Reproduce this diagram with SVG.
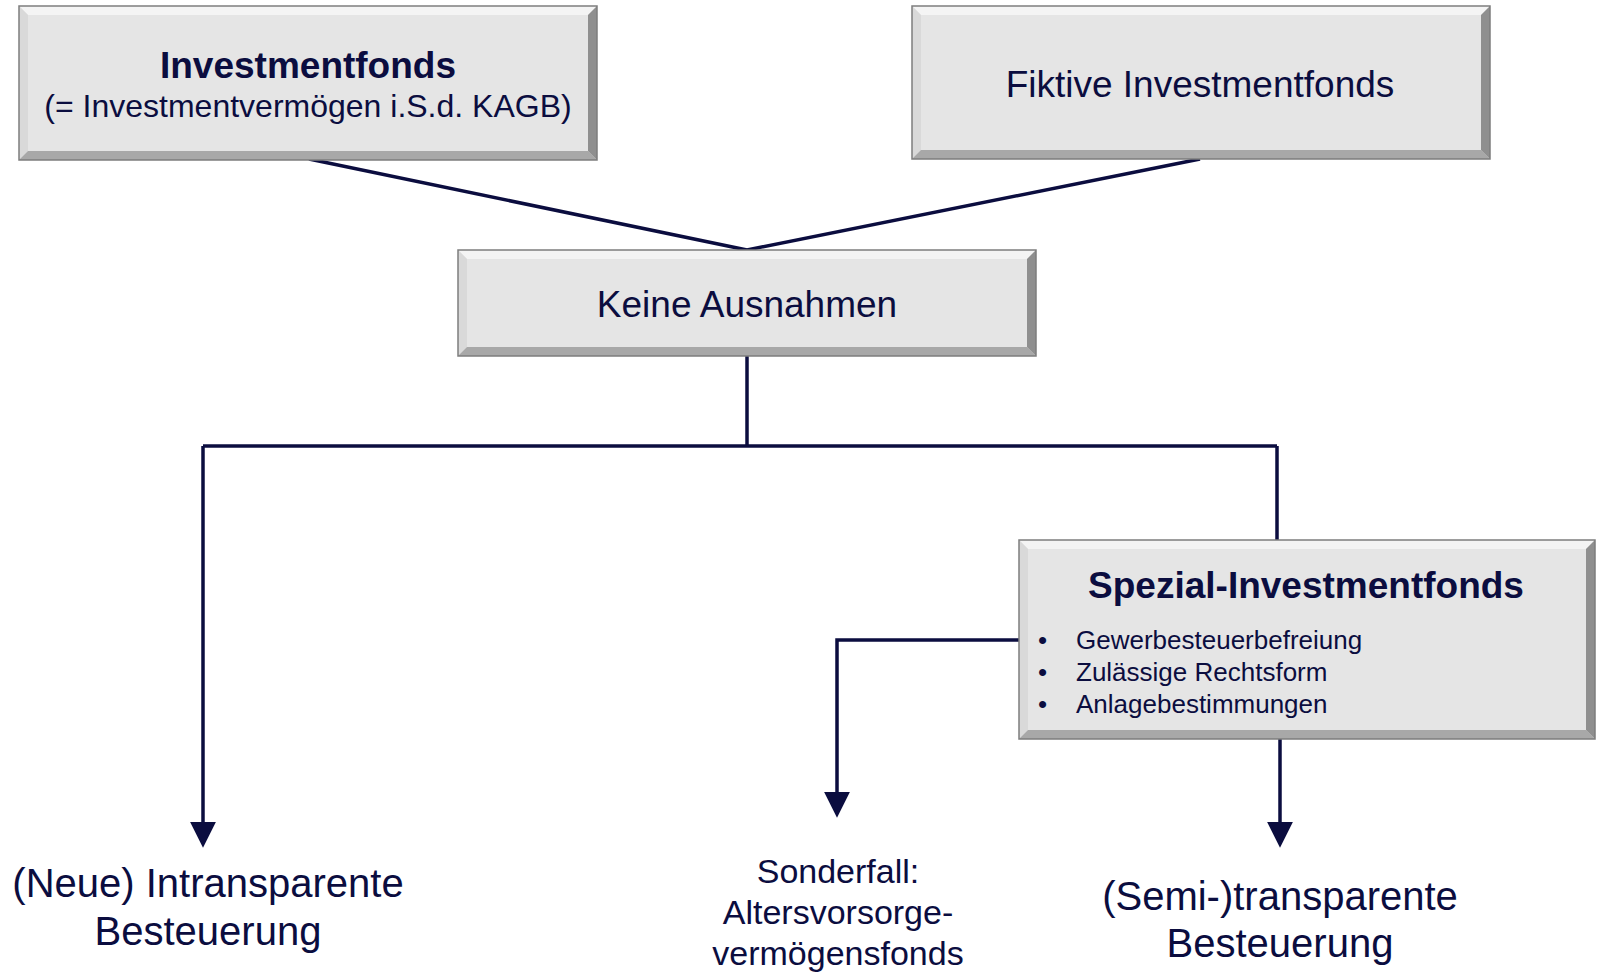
<svg xmlns="http://www.w3.org/2000/svg" width="1599" height="972" viewBox="0 0 1599 972">
<defs>
<style>
.face{fill:#e5e5e5}
.bt{fill:#f4f4f4}
.bl{fill:#d9d9d9}
.bb{fill:#a8a8a8}
.br{fill:#8f8f8f}
.edge{fill:none;stroke:#7d7d7d;stroke-width:1.5}
.t{font-family:"Liberation Sans",Arial,sans-serif;fill:#0b0d3f;text-anchor:middle}
.b{font-weight:bold}
.l{font-family:"Liberation Sans",Arial,sans-serif;fill:#0b0d3f}
.c{fill:none;stroke:#0b0d3f;stroke-width:3.5}
</style>
<marker id="ah" viewBox="0 0 10 10" refX="2" refY="5" markerWidth="26" markerHeight="26" markerUnits="userSpaceOnUse" orient="auto">
<path d="M0,0 L10,5 L0,10 z" fill="#0b0d3f"/>
</marker>
</defs>

<g id="connectors">
<path class="c" d="M309,159 L747,250"/>
<path class="c" d="M1200,159 L747,250"/>
<path class="c" d="M747,356 L747,446"/>
<path class="c" d="M203,446 L1277,446"/>
<path class="c" d="M1277,446 L1277,540"/>
<path class="c" d="M203,446 L203,827" marker-end="url(#ah)"/>
<path class="c" d="M1019,640 L837,640 L837,797" marker-end="url(#ah)"/>
<path class="c" d="M1280,739 L1280,827" marker-end="url(#ah)"/>
</g>

<g id="investmentfonds">
<rect class="face" x="19" y="6" width="578" height="154"/>
<polygon class="bt" points="19,6 597,6 588,15 28,15"/>
<polygon class="bl" points="19,6 28,15 28,151 19,160"/>
<polygon class="bb" points="19,160 28,151 588,151 597,160"/>
<polygon class="br" points="597,6 597,160 588,151 588,15"/>
<rect class="edge" x="19" y="6" width="578" height="154"/>
<text class="t b" x="308" y="78" font-size="37">Investmentfonds</text>
<text class="t" x="308" y="117" font-size="32">(= Investmentvermögen i.S.d. KAGB)</text>
</g>

<g id="fiktive">
<rect class="face" x="912" y="6" width="578" height="153"/>
<polygon class="bt" points="912,6 1490,6 1481,15 921,15"/>
<polygon class="bl" points="912,6 921,15 921,150 912,159"/>
<polygon class="bb" points="912,159 921,150 1481,150 1490,159"/>
<polygon class="br" points="1490,6 1490,159 1481,150 1481,15"/>
<rect class="edge" x="912" y="6" width="578" height="153"/>
<text class="t" x="1200" y="97" font-size="37">Fiktive Investmentfonds</text>
</g>

<g id="keine">
<rect class="face" x="458" y="250" width="578" height="106"/>
<polygon class="bt" points="458,250 1036,250 1027,259 467,259"/>
<polygon class="bl" points="458,250 467,259 467,347 458,356"/>
<polygon class="bb" points="458,356 467,347 1027,347 1036,356"/>
<polygon class="br" points="1036,250 1036,356 1027,347 1027,259"/>
<rect class="edge" x="458" y="250" width="578" height="106"/>
<text class="t" x="747" y="317" font-size="37">Keine Ausnahmen</text>
</g>

<g id="spezial">
<rect class="face" x="1019" y="540" width="576" height="199"/>
<polygon class="bt" points="1019,540 1595,540 1586,549 1028,549"/>
<polygon class="bl" points="1019,540 1028,549 1028,730 1019,739"/>
<polygon class="bb" points="1019,739 1028,730 1586,730 1595,739"/>
<polygon class="br" points="1595,540 1595,739 1586,730 1586,549"/>
<rect class="edge" x="1019" y="540" width="576" height="199"/>
<text class="t b" x="1306" y="598" font-size="37">Spezial-Investmentfonds</text>
<text class="l" x="1038" y="649" font-size="26">•</text>
<text class="l" x="1076" y="649" font-size="26">Gewerbesteuerbefreiung</text>
<text class="l" x="1038" y="681" font-size="26">•</text>
<text class="l" x="1076" y="681" font-size="26">Zulässige Rechtsform</text>
<text class="l" x="1038" y="713" font-size="26">•</text>
<text class="l" x="1076" y="713" font-size="26">Anlagebestimmungen</text>
</g>

<g id="intransparent">
<text class="t" x="208" y="897" font-size="40">(Neue) Intransparente</text>
<text class="t" x="208" y="945" font-size="40">Besteuerung</text>
</g>

<g id="sonderfall">
<text class="t" x="838" y="883" font-size="34">Sonderfall:</text>
<text class="t" x="838" y="924" font-size="34">Altersvorsorge-</text>
<text class="t" x="838" y="965" font-size="34">vermögensfonds</text>
</g>

<g id="semitransparent">
<text class="t" x="1280" y="910" font-size="40">(Semi-)transparente</text>
<text class="t" x="1280" y="957" font-size="40">Besteuerung</text>
</g>
</svg>
